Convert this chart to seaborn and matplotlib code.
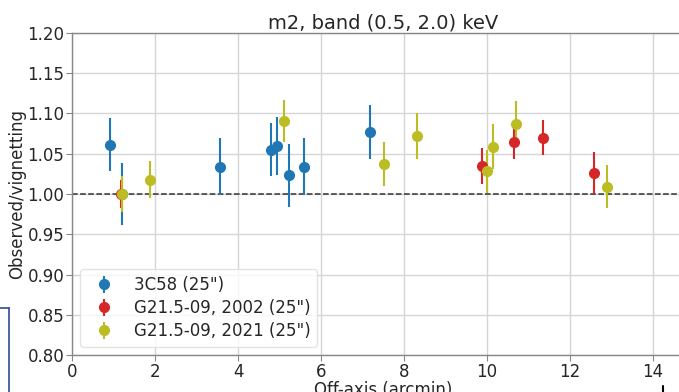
import matplotlib
matplotlib.use("Agg")
import matplotlib.pyplot as plt
from matplotlib.lines import Line2D
import seaborn as sns

# ---- data ----
x_3c58 = [0.92, 1.21, 3.57, 4.80, 4.94, 5.24, 5.60, 7.17]
y_3c58 = [1.061, 1.000, 1.034, 1.055, 1.060, 1.023, 1.034, 1.077]
e_3c58 = [0.033, 0.038, 0.035, 0.033, 0.036, 0.039, 0.035, 0.034]

x_g2002 = [1.18, 9.87, 10.65, 11.36, 12.59]
y_g2002 = [1.000, 1.035, 1.064, 1.070, 1.026]
e_g2002 = [0.018, 0.022, 0.020, 0.022, 0.026]

x_g2021 = [1.20, 1.87, 5.12, 7.51, 8.32, 9.99, 10.14, 10.69, 12.88]
y_g2021 = [1.000, 1.018, 1.091, 1.037, 1.072, 1.028, 1.059, 1.087, 1.009]
e_g2021 = [0.022, 0.023, 0.026, 0.027, 0.028, 0.027, 0.028, 0.029, 0.027]

labels = ['3C58 (25")', 'G21.5-09, 2002 (25")', 'G21.5-09, 2021 (25")']
colors = ["#1f77b4", "#d62728", "#bcbd22"]
xticks = [0, 2, 4, 6, 8, 10, 12, 14]
yticks = [0.80, 0.85, 0.90, 0.95, 1.00, 1.05, 1.10, 1.15, 1.20]

sns.set_theme(style="whitegrid")
plt.rcParams["font.family"] = ["DejaVu Sans"]

fig = plt.figure(figsize=(6.79, 3.92), dpi=100)
ax = fig.add_axes([72 / 679, 1 - 355 / 392, 622.5 / 679, 322 / 392])

series = [(x_3c58, y_3c58, e_3c58), (x_g2002, y_g2002, e_g2002), (x_g2021, y_g2021, e_g2021)]
for (xs, ys, es), lab, col in zip(series, labels, colors):
    ax.errorbar(xs, ys, yerr=es, fmt="o", color=col, ecolor=col, markersize=7,
                elinewidth=1.5, capsize=0, label=lab, zorder=3)

ax.axhline(1.0, color="#333333", linestyle="--", linewidth=1.1, zorder=2)

ax.set_xlim(0, 15)
ax.set_ylim(0.80, 1.20)
ax.set_xticks(xticks)
ax.set_yticks(yticks)
ax.set_yticklabels([f"{v:.2f}" for v in yticks])
ax.tick_params(axis="both", labelsize=12, length=4, width=0.8, color="#888888",
               bottom=True, left=True, pad=1.5)
ax.grid(True, color="#d5d5d5", linewidth=1.0)
for s in ["left", "bottom", "top", "right"]:
    ax.spines[s].set_color("#888888")
    ax.spines[s].set_linewidth(1.0)

ax.set_title("m2, band (0.5, 2.0) keV", fontsize=14, pad=3)
ax.set_xlabel("Off-axis (arcmin)", fontsize=12, labelpad=0)
ax.set_ylabel("Observed/vignetting", fontsize=12, labelpad=1)

leg = ax.legend(loc="lower left", fontsize=12, frameon=True, borderaxespad=0.5,
                labelspacing=0.3)
leg.get_frame().set_edgecolor("#dddddd")

# screenshot artifacts
fig.add_artist(Line2D([0, 9 / 679], [1 - 308 / 392] * 2, color="#2b4a9a", lw=1.2))
fig.add_artist(Line2D([9 / 679] * 2, [1 - 308 / 392, 0], color="#2b4a9a", lw=1.2))
fig.add_artist(Line2D([663 / 679] * 2, [1 - 386 / 392, 0], color="black", lw=1.5))

fig.savefig("out.png", dpi=100)
